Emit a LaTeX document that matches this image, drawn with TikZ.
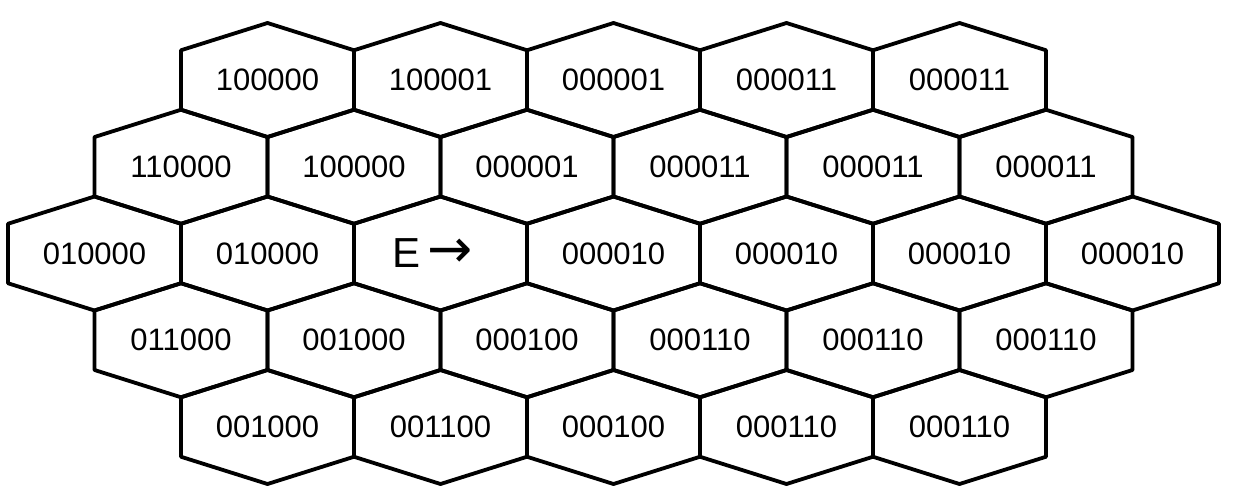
\documentclass[tikz,border=0pt]{standalone}
\usepackage{fontspec}
\setmainfont{Liberation Sans}
\newfontfamily\arrowfont{DejaVu Sans}
\newcommand\hexcell[5][]{%
  \draw[hexline] (#2,#3-\hexP) -- (#2+\hexW,#3-\hexS) -- (#2+\hexW,#3+\hexS)
    -- (#2,#3+\hexP) -- (#2-\hexW,#3+\hexS) -- (#2-\hexW,#3-\hexS) -- cycle;
  \node[lbl,#1] (#4) at (#2,#3) {#5};}
\begin{document}
\begin{tikzpicture}[x=1pt,y=-1pt,
  hexline/.style={line width=3.8pt,line join=round,line cap=round},
  lbl/.style={font=\fontsize{31}{33}\selectfont,inner sep=0pt}]
\useasboundingbox (0,0) rectangle (1235,496);
\def\hexW{86.5}\def\hexP{57}\def\hexS{29.75}
% row 1
\hexcell{267.5}{80}{r1a}{100000}
\hexcell{440.5}{80}{r1b}{100001}
\hexcell{613.5}{80}{r1c}{000001}
\hexcell{786.5}{80}{r1d}{000011}
\hexcell{959.5}{80}{r1e}{000011}
% row 2
\hexcell{181}{166.75}{r2a}{110000}
\hexcell{354}{166.75}{r2b}{100000}
\hexcell{527}{166.75}{r2c}{000001}
\hexcell{700}{166.75}{r2d}{000011}
\hexcell{873}{166.75}{r2e}{000011}
\hexcell{1046}{166.75}{r2f}{000011}
% row 3
\hexcell{94.5}{253.5}{r3a}{010000}
\hexcell{267.5}{253.5}{r3b}{010000}
\hexcell[xshift=-8pt,font=\fontsize{42}{44}\selectfont]{440.5}{253.5}{r3c}{E\,{\arrowfont\fontsize{54}{56}\selectfont →}}
\hexcell{613.5}{253.5}{r3d}{000010}
\hexcell{786.5}{253.5}{r3e}{000010}
\hexcell{959.5}{253.5}{r3f}{000010}
\hexcell{1132.5}{253.5}{r3g}{000010}
% row 4
\hexcell{181}{340.25}{r4a}{011000}
\hexcell{354}{340.25}{r4b}{001000}
\hexcell{527}{340.25}{r4c}{000100}
\hexcell{700}{340.25}{r4d}{000110}
\hexcell{873}{340.25}{r4e}{000110}
\hexcell{1046}{340.25}{r4f}{000110}
% row 5
\hexcell{267.5}{427}{r5a}{001000}
\hexcell{440.5}{427}{r5b}{001100}
\hexcell{613.5}{427}{r5c}{000100}
\hexcell{786.5}{427}{r5d}{000110}
\hexcell{959.5}{427}{r5e}{000110}
\end{tikzpicture}
\end{document}
